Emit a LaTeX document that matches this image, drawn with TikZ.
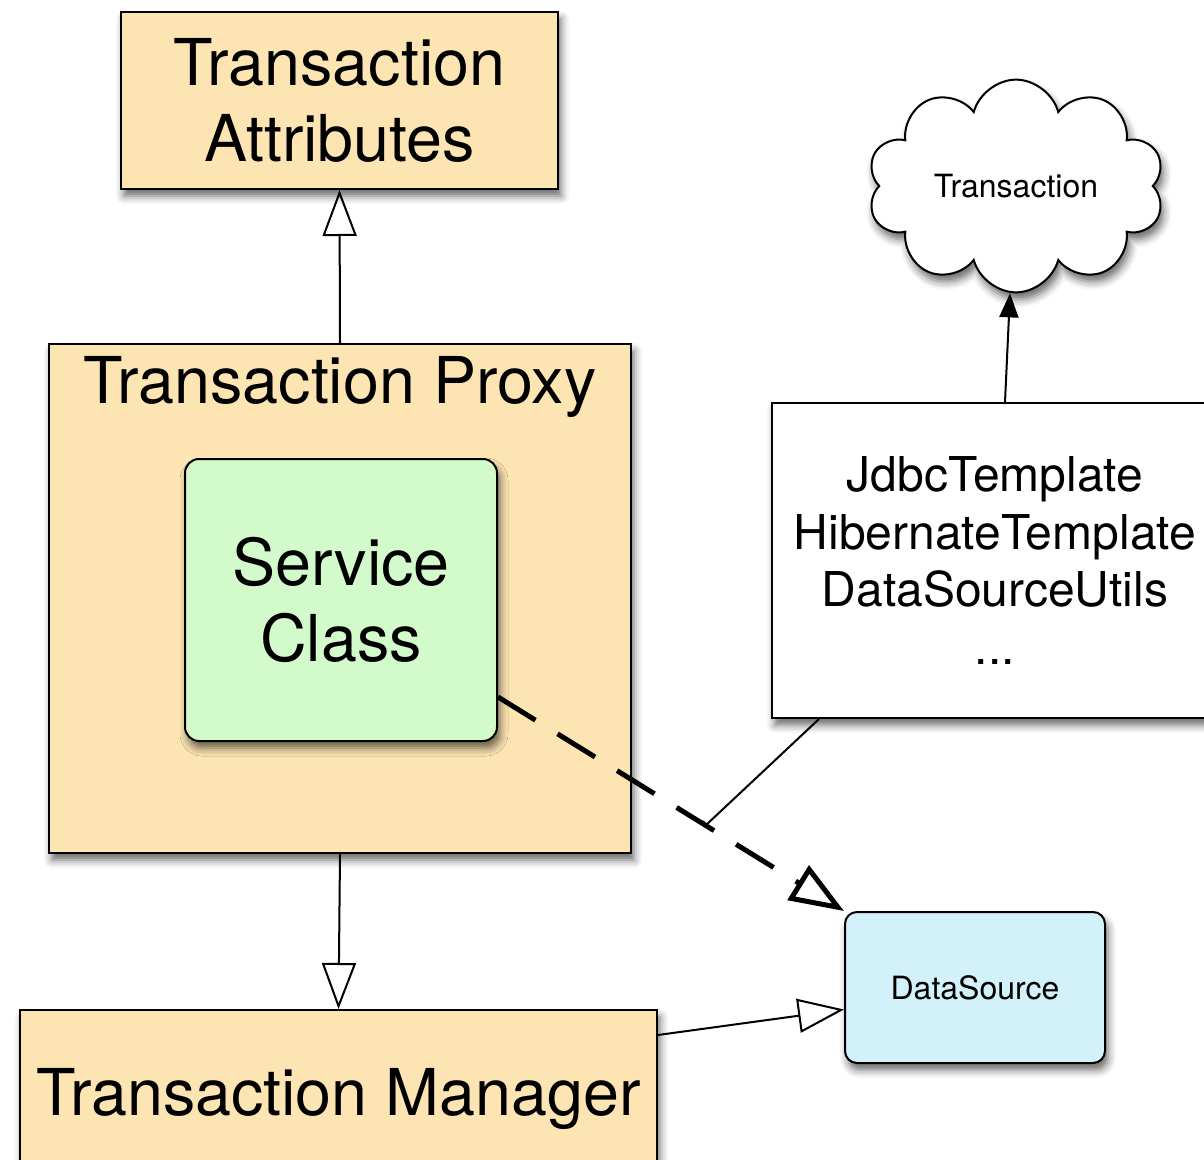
\documentclass[tikz,border=0pt]{standalone}
\usepackage{fontspec}
\setmainfont{TeX Gyre Heros}
\usetikzlibrary{positioning,
        shapes.symbols,
        shadows,
        shadows.blur,
        arrows.meta,
        calc}
\usepackage{xcolor}
\definecolor{attrorange}{HTML}{FDE5B3}
\definecolor{svcgreen}{HTML}{D2FACB}
\definecolor{dsblue}{HTML}{D3F1FB}

\begin{document}
\begin{tikzpicture}[x=0.5pt, y=-0.5pt,
    box/.style={draw, line width=1pt, align=center, inner sep=0pt,
        blur shadow={shadow xshift=1.5pt, shadow yshift=-3.5pt, shadow blur radius=4pt, shadow opacity=60}},
    bigtext/.style={font=\fontsize{32.3}{37.8}\selectfont},
    gen/.style={line width=1pt, -{Triangle[open, length=23pt, width=17pt]}},
    uses/.style={line width=2.5pt, dash pattern=on 22pt off 13pt, -{Triangle[open, length=27pt, width=20pt]}}]
    \useasboundingbox (0,0) rectangle (1204,1160);

    \node [box, bigtext, fill=attrorange, minimum width=218.5pt, minimum height=88.5pt] (attr) at (339.5, 100.5) {Transaction\\Attributes};
    \node [box, fill=attrorange, minimum width=291pt, minimum height=254.5pt] (proxy) at (340, 598.5) {};
    \node [bigtext, anchor=base] (proxytitle) at (340, 403) {Transaction Proxy};
    \node [box, bigtext, fill=svcgreen, rounded corners=7pt, minimum width=156pt, minimum height=141pt] (svc) at (341, 600) {Service\\Class};
    \node [box, bigtext, fill=attrorange, minimum width=318.5pt, minimum height=88.5pt] (tm) at (338.5, 1098.5) {Transaction Manager};
    \node [box, fill=dsblue, rounded corners=6pt, minimum width=130pt, minimum height=75.5pt, font=\fontsize{16}{19}\selectfont] (ds) at (975, 987.5) {DataSource};
    \node [box, fill=white, minimum width=223pt, minimum height=157.5pt, font=\fontsize{24}{28.8}\selectfont] (jdbc) at (995, 560.5) {JdbcTemplate\\HibernateTemplate\\DataSourceUtils\\...};
    \node [box, cloud, fill=white, cloud puffs=10, aspect=1.4, minimum width=148.5pt, minimum height=106pt, font=\fontsize{16}{19}\selectfont] (txcloud) at (1016, 186) {Transaction};

    \coordinate (svcout) at ([yshift=-48.5pt]svc.east);

    \draw [gen] (proxy.north) -- (attr.south);
    \draw [gen] (proxy.south) -- (tm.north);
    \draw [gen] ([yshift=-13pt]tm.north east) -- ([yshift=-11pt]ds.west);
    \draw [uses] (svcout) -- (ds.north west) coordinate[pos=0.6] (tap);
    \draw [line width=1pt, -{Bar[width=5pt]}] ([xshift=24pt]jdbc.south west) -- (tap);
    \draw [line width=1pt, -{Triangle[length=12pt, width=9.5pt]}] ([xshift=5pt]jdbc.north) -- ([xshift=-3pt]txcloud.south);
\end{tikzpicture}
\end{document}
